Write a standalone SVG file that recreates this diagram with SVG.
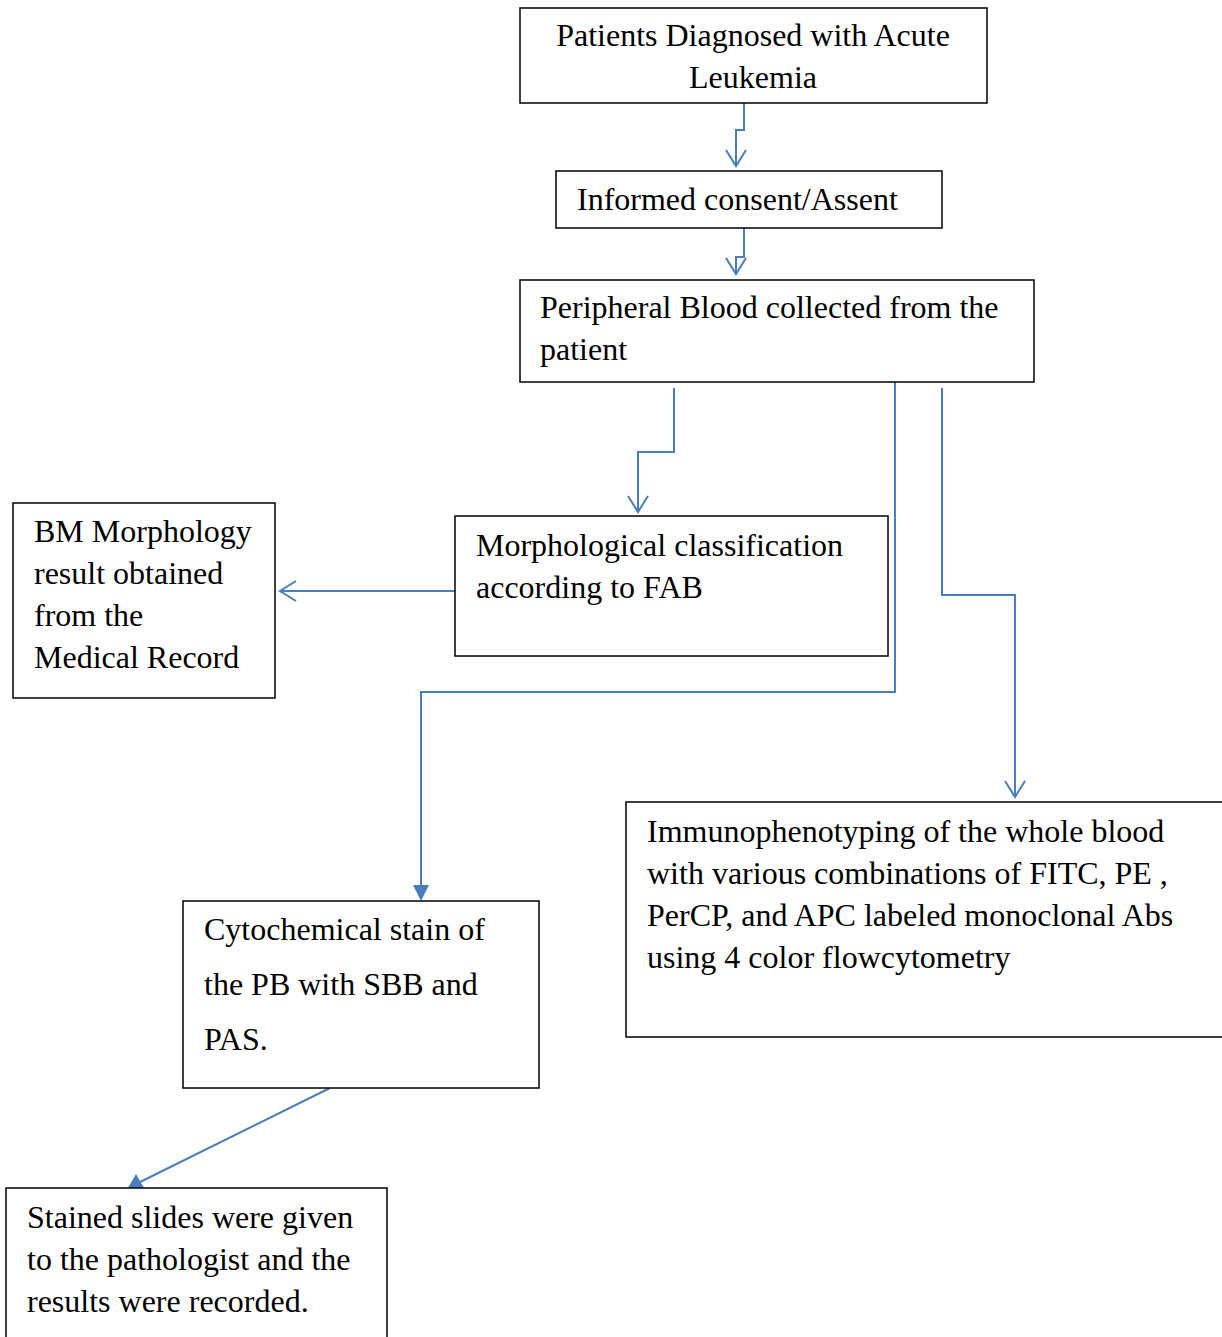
<svg xmlns="http://www.w3.org/2000/svg" width="1222" height="1337" viewBox="0 0 1222 1337">
<defs>
<style>
.box{fill:#fff;stroke:#000;stroke-width:1.5}
.t{font-family:"Liberation Serif","Times New Roman",serif;font-size:32px;fill:#000}
.c{fill:none;stroke:#4a7ebb;stroke-width:2}
.f{fill:#4a7ebb}
</style>
</defs>
<rect width="1222" height="1337" fill="#fff"/>
<g id="connectors">
<path class="c" d="M744,97 V130 H736 V165"/>
<path class="c" d="M744,228 V257 H736 V273"/>
<path class="c" d="M674,388 V452 H638 V511"/>
<path class="c" d="M895,382 V692 H421 V899"/>
<path class="c" d="M942,388 V595 H1015 V796"/>
<path class="c" d="M455,591 H281"/>
<path class="c" d="M330,1088 L130,1187"/>
<path class="c" d="M726,150 L736,166 L746,150"/>
<path class="c" d="M726,258 L736,274 L746,258"/>
<path class="c" d="M628,496 L638,512 L648,496"/>
<path class="c" d="M1005,781 L1015,797 L1025,781"/>
<path class="c" d="M296,581 L280,591 L296,601"/>
<path class="f" d="M413,885 L429,885 L421,901 Z"/>
<path class="f" d="M128,1188 L144,1188 L136,1174 Z"/>
</g>
<g id="n1"><rect class="box" x="520" y="8" width="467" height="95"/>
<text class="t" x="753" y="46" text-anchor="middle">Patients Diagnosed with Acute</text>
<text class="t" x="753" y="88" text-anchor="middle">Leukemia</text></g>
<g id="n2"><rect class="box" x="556" y="171" width="386" height="57"/>
<text class="t" x="577" y="210">Informed consent/Assent</text></g>
<g id="n3"><rect class="box" x="520" y="280" width="514" height="102"/>
<text class="t" x="540" y="318">Peripheral Blood collected from the</text>
<text class="t" x="540" y="360">patient</text></g>
<g id="n4"><rect class="box" x="455" y="516" width="433" height="140"/>
<text class="t" x="476" y="556">Morphological classification</text>
<text class="t" x="476" y="598">according to FAB</text></g>
<g id="n5"><rect class="box" x="13" y="503" width="262" height="195"/>
<text class="t" x="34" y="542">BM Morphology</text>
<text class="t" x="34" y="584">result obtained</text>
<text class="t" x="34" y="626">from the</text>
<text class="t" x="34" y="668">Medical Record</text></g>
<g id="n6"><rect class="box" x="626" y="802" width="600" height="235"/>
<text class="t" x="647" y="842">Immunophenotyping of the whole blood</text>
<text class="t" x="647" y="884">with various combinations of FITC, PE ,</text>
<text class="t" x="647" y="926">PerCP, and APC labeled monoclonal Abs</text>
<text class="t" x="647" y="968">using 4 color flowcytometry</text></g>
<g id="n7"><rect class="box" x="183" y="901" width="356" height="187"/>
<text class="t" x="204" y="940">Cytochemical stain of</text>
<text class="t" x="204" y="995">the PB with SBB and</text>
<text class="t" x="204" y="1050">PAS.</text></g>
<g id="n8"><rect class="box" x="6" y="1188" width="381" height="160"/>
<text class="t" x="27" y="1228">Stained slides were given</text>
<text class="t" x="27" y="1270">to the pathologist and the</text>
<text class="t" x="27" y="1312">results were recorded.</text></g>
</svg>
